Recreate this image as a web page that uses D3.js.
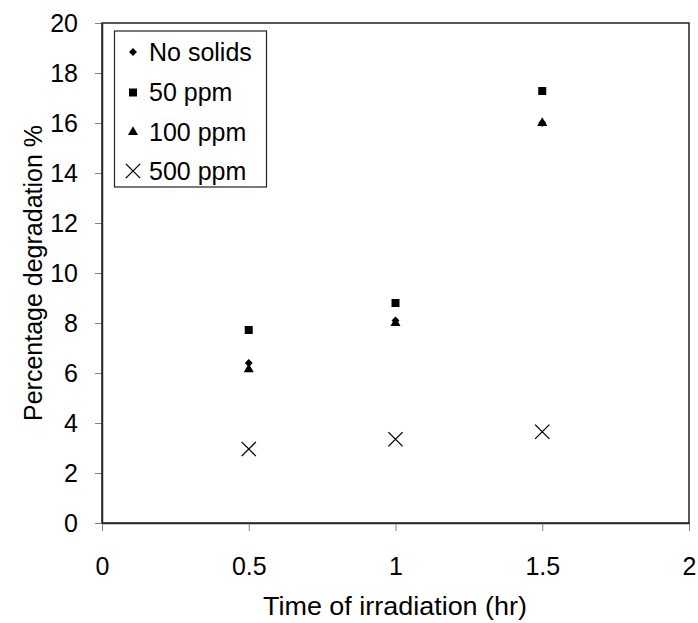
<!DOCTYPE html>
<html><head><meta charset="utf-8">
<script src="https://cdn.jsdelivr.net/npm/d3@7"></script>
<style>body{margin:0;background:#fff}svg{display:block}text{font-family:Arial,"Liberation Sans",sans-serif;fill:#000}</style>
</head><body><svg id="c" width="698" height="623"></svg>
<script>
const times = [0.5, 1.0, 1.5];
const noSolids = [6.4, 8.1, 16.0];
const ppm50 = [7.72, 8.8, 17.28];
const ppm100 = [6.15, 8.0, 16.0];
const ppm500 = [2.96, 3.35, 3.65];
const seriesNames = ["No solids", "50 ppm", "100 ppm", "500 ppm"];
const xTicks = [0, 0.5, 1, 1.5, 2];
const yTicks = [0, 2, 4, 6, 8, 10, 12, 14, 16, 18, 20];

const svg = d3.select("#c");
const L = 102, R = 689, T = 23, B = 523;
const x = d3.scaleLinear().domain([0, 2]).range([L, R]);
const y = d3.scaleLinear().domain([0, 20]).range([B, T]);
const FS = "25px";

// axes
const xa = svg.append("g").attr("transform", `translate(0,${B})`)
  .call(d3.axisBottom(x).tickValues(xTicks).tickSize(8).tickSizeOuter(0).tickPadding(26).tickFormat(d3.format("")));
const ya = svg.append("g").attr("transform", `translate(${L},0)`)
  .call(d3.axisLeft(y).tickValues(yTicks).tickSize(7).tickSizeOuter(0).tickPadding(17).tickFormat(d3.format("")));
[xa, ya].forEach(g => {
  g.selectAll("path.domain").attr("stroke", "#333").attr("stroke-width", 1.5);
  g.selectAll(".tick line").attr("stroke", "#808080").attr("stroke-width", 1);
  g.selectAll(".tick text").style("font-size", FS).style("font-family", "Arial, 'Liberation Sans', sans-serif").attr("fill", "#000");
});
// plot frame
svg.append("rect").attr("x", L).attr("y", T).attr("width", R - L).attr("height", B - T)
  .attr("fill", "none").attr("stroke", "#222").attr("stroke-width", 1.5);

const symbols = [d3.symbolDiamond2, d3.symbolSquare, d3.symbolTriangle];
const sizes = [40, 64, 44];
const data = [noSolids, ppm50, ppm100];
data.forEach((vals, i) => {
  svg.append("g").selectAll("path").data(vals).join("path")
    .attr("transform", (d, j) => `translate(${x(times[j])},${y(d)})`)
    .attr("d", d3.symbol().type(symbols[i]).size(sizes[i]))
    .attr("fill", "#000");
});
// X markers
const xm = d3.symbol().type(d3.symbolX).size(135);
svg.append("g").selectAll("path").data(ppm500).join("path")
  .attr("transform", (d, j) => `translate(${x(times[j])},${y(d)})`)
  .attr("d", xm).attr("fill", "none").attr("stroke", "#000").attr("stroke-width", 1.3);

// legend
const lg = svg.append("g");
lg.append("rect").attr("x", 114.5).attr("y", 31).attr("width", 152).attr("height", 156)
  .attr("fill", "#fff").attr("stroke", "#222").attr("stroke-width", 1.2);
const rowBase = [60.5, 101, 140.5, 179.5];
seriesNames.forEach((name, i) => {
  const cy = rowBase[i] - 8.5;
  if (i < 3) {
    lg.append("path").attr("transform", `translate(133,${cy})`)
      .attr("d", d3.symbol().type(symbols[i]).size(sizes[i])).attr("fill", "#000");
  } else {
    lg.append("path").attr("transform", `translate(133,${cy})`)
      .attr("d", xm).attr("fill", "none").attr("stroke", "#000").attr("stroke-width", 1.3);
  }
  lg.append("text").attr("x", 149).attr("y", rowBase[i])
    .style("font-size", FS).text(name);
});

// titles
svg.append("text").attr("x", 395).attr("y", 615).attr("text-anchor", "middle")
  .attr("textLength", 264).attr("lengthAdjust", "spacingAndGlyphs")
  .style("font-size", FS).text("Time of irradiation (hr)");
svg.append("text").attr("transform", `translate(42,273) rotate(-90)`).attr("text-anchor", "middle")
  .style("font-size", FS).text("Percentage degradation %");
</script></body></html>
